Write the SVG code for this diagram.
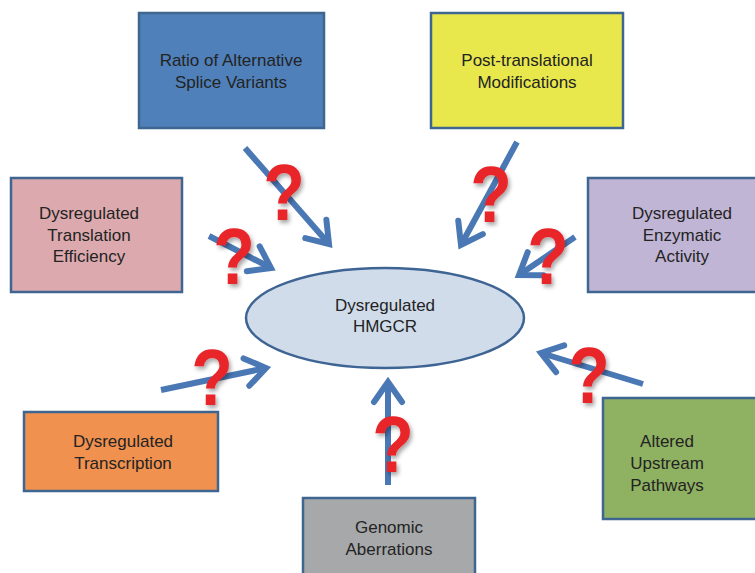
<svg xmlns="http://www.w3.org/2000/svg" width="755" height="573" viewBox="0 0 755 573">
<defs>
<style>
.box{stroke:#3f6591;stroke-width:2.5}
.lbl{font-family:"Liberation Sans",Arial,sans-serif;font-size:17px;fill:#232323;text-anchor:middle}
.arr{stroke:#4a78b4;stroke-width:6;fill:none;stroke-linecap:butt}
.q{font-family:"Liberation Sans",Arial,sans-serif;font-weight:bold;font-size:80px;fill:#e8252b;text-anchor:middle}
</style>
<marker id="head" markerUnits="userSpaceOnUse" markerWidth="40" markerHeight="40" refX="0" refY="0" viewBox="-25 -20 30 40" orient="auto" overflow="visible">
<path d="M-20,-14 L0,0 L-20,14" fill="none" stroke="#4a78b4" stroke-width="6" stroke-linecap="round" stroke-linejoin="miter"/>
</marker>
<filter id="sh" x="-30%" y="-30%" width="160%" height="160%">
<feDropShadow dx="2" dy="3" stdDeviation="2" flood-color="#000" flood-opacity="0.35"/>
</filter>
</defs>
<rect width="755" height="573" fill="#fff"/>
<g id="hmgcr">
<ellipse cx="385" cy="318" rx="139" ry="50" fill="#d0dcea" stroke="#3e6494" stroke-width="2.5"/>
<text class="lbl" x="385" y="311">Dysregulated</text>
<text class="lbl" x="385" y="332">HMGCR</text>
</g>
<g id="splice">
<rect class="box" x="139" y="13" width="185" height="115" fill="#4f80b9"/>
<text class="lbl" x="231" y="66">Ratio of Alternative</text>
<text class="lbl" x="231" y="88">Splice Variants</text>
</g>
<g id="ptm">
<rect class="box" x="431" y="13" width="192" height="115" fill="#e8e84d"/>
<text class="lbl" x="527" y="66">Post-translational</text>
<text class="lbl" x="527" y="88">Modifications</text>
</g>
<g id="translation">
<rect class="box" x="11" y="178" width="171" height="114" fill="#dcaaae"/>
<text class="lbl" x="89" y="219">Dysregulated</text>
<text class="lbl" x="89" y="241">Translation</text>
<text class="lbl" x="89" y="262">Efficiency</text>
</g>
<g id="enzymatic">
<rect class="box" x="588" y="178" width="170" height="114" fill="#c1b5d5"/>
<text class="lbl" x="682" y="219">Dysregulated</text>
<text class="lbl" x="682" y="241">Enzymatic</text>
<text class="lbl" x="682" y="262">Activity</text>
</g>
<g id="transcription">
<rect class="box" x="24" y="412" width="194" height="79" fill="#f0914f"/>
<text class="lbl" x="123" y="447">Dysregulated</text>
<text class="lbl" x="123" y="469">Transcription</text>
</g>
<g id="genomic">
<rect class="box" x="303" y="498" width="172" height="80" fill="#a6a8aa"/>
<text class="lbl" x="389" y="533">Genomic</text>
<text class="lbl" x="389" y="555">Aberrations</text>
</g>
<g id="upstream">
<rect class="box" x="603" y="398" width="155" height="121" fill="#8fb162"/>
<text class="lbl" x="667" y="447">Altered</text>
<text class="lbl" x="667" y="469">Upstream</text>
<text class="lbl" x="667" y="491">Pathways</text>
</g>
<g id="connectors">
<line class="arr" x1="245" y1="148" x2="329" y2="244" marker-end="url(#head)"/>
<line class="arr" x1="517" y1="142" x2="461" y2="245" marker-end="url(#head)"/>
<line class="arr" x1="209" y1="236" x2="271" y2="268" marker-end="url(#head)"/>
<line class="arr" x1="575" y1="237" x2="519" y2="275" marker-end="url(#head)"/>
<line class="arr" x1="161" y1="390" x2="266" y2="368" marker-end="url(#head)"/>
<line class="arr" x1="388" y1="485" x2="388" y2="382" marker-end="url(#head)"/>
<line class="arr" x1="643" y1="384" x2="541" y2="353" marker-end="url(#head)"/>
</g>
<g id="questions" filter="url(#sh)">
<text class="q" transform="translate(284 220) scale(0.85 1)">?</text>
<text class="q" transform="translate(491 222) scale(0.85 1)">?</text>
<text class="q" transform="translate(234 284) scale(0.85 1)">?</text>
<text class="q" transform="translate(548 284) scale(0.85 1)">?</text>
<text class="q" transform="translate(212 405) scale(0.85 1)">?</text>
<text class="q" transform="translate(393 472) scale(0.85 1)">?</text>
<text class="q" transform="translate(589 403) scale(0.85 1)">?</text>
</g>
</svg>
